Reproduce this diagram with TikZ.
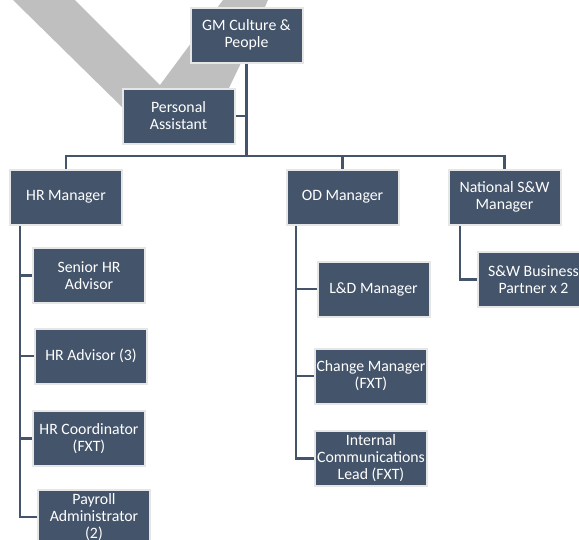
\documentclass[tikz,border=0pt]{standalone}
\usepackage{fontspec}
\setmainfont{Carlito}
\usetikzlibrary{positioning, backgrounds}

\definecolor{slate}{HTML}{44546A}
\definecolor{rim}{HTML}{E7E6E6}
\definecolor{band}{HTML}{BFBFBF}

\begin{document}
\begin{tikzpicture}
  [
  x=1pt, y=1pt, on grid,
  every role/.style={},
  role/.style={rectangle, draw=rim, line width=2pt, fill=slate, text=white,
    minimum width=112pt, minimum height=55pt, inner sep=0pt, align=center,
    font=\fontsize{15.8}{17}\selectfont},
  link/.style={draw=slate, line width=2.2pt}
  ]
  \clip (0,0) rectangle (579,-539);

  \node[role] (gm)                                        at (246.5,-35)  {GM Culture \&\\People};
  \node[role] (pa)     [below left=81pt and 68pt of gm]                   {Personal\\Assistant};

  \node[role] (hr)     [below left=162pt and 180.5pt of gm]               {HR Manager};
  \node[role] (od)     [right=276.5pt of hr]                              {OD Manager};
  \node[role] (nat)    [right=162pt of od]                                {National S\&W\\Manager};

  \node[role] (senior) [below right=78.5pt and 23pt of hr]                {Senior HR\\Advisor};
  \node[role] (hradv)  [below right=80.5pt and 2pt of senior]             {HR Advisor (3)};
  \node[role] (coord)  [below left=82.5pt and 2pt of hradv]               {HR Coordinator\\(FXT)};
  \node[role] (pay)    [below right=78.5pt and 5pt of coord]              {Payroll\\Administrator\\(2)};

  \node[role] (ld)     [below right=92pt and 31pt of od]                  {L\&D Manager};
  \node[role] (change) [below left=87pt and 2.5pt of ld]                  {Change Manager\\(FXT)};
  \node[role] (comms)  [below=82.5pt of change]                           {Internal\\Communications\\Lead (FXT)};

  \node[role] (swbp)   [below right=82.5pt and 29pt of nat]               {S\&W Business\\Partner x 2};

  \coordinate (bus)     at ([yshift=-92.5pt]gm.south);
  \coordinate (hrspine) at ([xshift=11pt]hr.south west);
  \coordinate (odspine) at ([xshift=10.5pt]od.south west);
  \coordinate (natspine) at ([xshift=12.5pt]nat.south west);

  % top level
  \draw[link] (gm.south) -- (bus);
  \draw[link] (pa.east) -- (pa.east -| gm.south);
  \draw[link] (hr.north) |- (bus) -| (nat.north);
  \draw[link] (od.north) -- (od.north |- bus);

  % HR team
  \draw[link] (hrspine) |- (pay.west);
  \draw[link] (senior.west) -- (senior.west -| hrspine);
  \draw[link] (hradv.west)  -- (hradv.west -| hrspine);
  \draw[link] (coord.west)  -- (coord.west -| hrspine);

  % OD team
  \draw[link] (odspine) |- (comms.west);
  \draw[link] (ld.west)     -- (ld.west -| odspine);
  \draw[link] (change.west) -- (change.west -| odspine);

  % S&W team
  \draw[link] (natspine) |- (swbp.west);

\begin{scope}[on background layer]
  \fill[band] (13,0) -- (75,0) -- (160,-85) -- (223,0) -- (268,0) -- (240,-65)
    -- (228,-90) -- (125,-110) -- cycle;
\end{scope}
\end{tikzpicture}
\end{document}
